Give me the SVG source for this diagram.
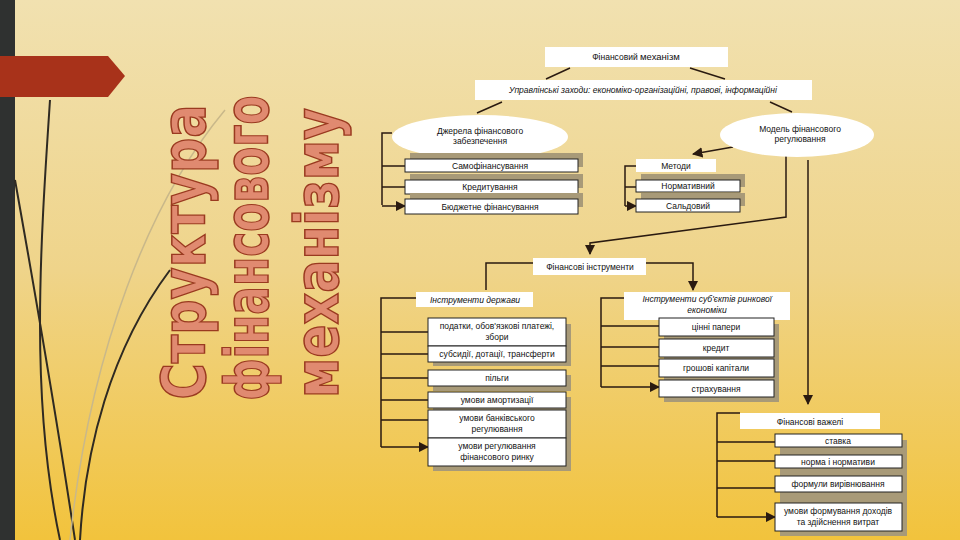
<svg xmlns="http://www.w3.org/2000/svg" width="960" height="540" viewBox="0 0 960 540">
<defs>
<linearGradient id="bg" x1="0" y1="0" x2="0" y2="1"><stop offset="0" stop-color="#f1e1b0"/><stop offset="0.5" stop-color="#efd48a"/><stop offset="1" stop-color="#f2c33c"/></linearGradient>
<marker id="ar" viewBox="0 0 10 10" refX="9" refY="5" markerWidth="7" markerHeight="7" orient="auto-start-reverse"><path d="M0,0L10,5L0,10z" fill="#2a1a10"/></marker>
<style>
.c{fill:none;stroke:#2a1a10;stroke-width:1.5}
.b{fill:#fff;stroke:#222;stroke-width:1}
.w{fill:#fff}
.s{fill:#a89a78}
.t{font-family:"Liberation Sans",Arial,sans-serif;font-size:8.5px;fill:#111;text-anchor:middle}
.i{font-style:italic}
.h{font-family:"DejaVu Sans",sans-serif;font-weight:bold;font-size:60px;fill:#e08a70;stroke:#9a3a20;stroke-width:1.5;text-anchor:middle}
</style>
</defs>
<rect width="960" height="540" fill="url(#bg)"/>
<rect x="0" y="0" width="15" height="540" fill="#2f3130"/>
<path d="M0,56H108L125,76L108,97H0z" fill="#a8321a"/>
<g fill="none" stroke="#2f2a22" stroke-width="2">
<path d="M50,100C40,250 30,400 60,540"/>
<path d="M15,180C40,320 60,440 75,540"/>
<path d="M170,270C110,350 85,450 80,540"/>
</g>
<path d="M225,110C150,200 90,350 70,540" fill="none" stroke="#c9b88a" stroke-width="1.5"/>
<g id="title">
<text class="h" transform="translate(205,252) rotate(-90)" textLength="295" lengthAdjust="spacingAndGlyphs">Структура</text>
<text class="h" transform="translate(268,248) rotate(-90)" textLength="305" lengthAdjust="spacingAndGlyphs">фінансового</text>
<text class="h" transform="translate(338,253) rotate(-90)" textLength="290" lengthAdjust="spacingAndGlyphs">механізму</text>
</g>
<g id="connectors">
<path class="c" d="M546,79L570,68M690,68L725,79M477,113L502,102M770,102L792,112"/>
<path class="c" d="M392,133H382V205"/>
<path class="c" marker-end="url(#ar)" d="M382,166H405M382,187H405M382,206H405"/>
<path class="c" marker-end="url(#ar)" d="M733,147L693,154"/>
<path class="c" d="M636,166H625V206"/>
<path class="c" marker-end="url(#ar)" d="M625,187H636M625,206H636"/>
<path class="c" marker-end="url(#ar)" d="M786,155V217L590,243V254"/>
<path class="c" marker-end="url(#ar)" d="M808,160V404"/>
<path class="c" marker-end="url(#ar)" d="M533,263H486V290M646,263H693V290"/>
<path class="c" d="M416,298H381V447"/>
<path class="c" marker-end="url(#ar)" d="M381,332H428M381,354H428M381,378H428M381,400H428M381,420H428M381,447H428"/>
<path class="c" d="M624,298H601V387"/>
<path class="c" marker-end="url(#ar)" d="M601,326H659M601,347H659M601,366H659M601,387H659"/>
<path class="c" d="M740,413H717V517"/>
<path class="c" marker-end="url(#ar)" d="M717,442H775M717,461H775M717,488H775M717,517H775"/>
</g>
<g id="n1"><rect class="w" x="545" y="47" width="183" height="20"/><text class="t" x="636" y="60">Фінансовий <tspan font-size="9.5">механізм</tspan></text></g>
<g id="n2"><rect class="w" x="475" y="80" width="337" height="20"/><text class="t i" x="643" y="93">Управлінські заходи: економіко-організаційні, правові, інформаційні</text></g>
<g id="n3"><ellipse class="w" cx="480" cy="137" rx="88" ry="22"/><text class="t" x="480" y="134">Джерела фінансового</text><text class="t" x="480" y="144">забезпечення</text></g>
<g id="n4"><ellipse class="w" cx="797" cy="135" rx="77" ry="22"/><text class="t" x="800" y="132">Модель фінансового</text><text class="t" x="800" y="142">регулювання</text></g>
<g id="n5"><rect class="s" x="410" y="153" width="173" height="14"/><rect class="b" x="405" y="159" width="173" height="13"/><text class="t" x="490" y="169">Самофінансування</text></g>
<g id="n6"><rect class="s" x="410" y="174" width="173" height="14"/><rect class="b" x="405" y="180" width="173" height="14"/><text class="t" x="490" y="190">Кредитування</text></g>
<g id="n7"><rect class="s" x="410" y="193" width="173" height="14"/><rect class="b" x="405" y="199" width="173" height="15"/><text class="t" x="490" y="210">Бюджетне фінансування</text></g>
<g id="n8"><rect class="w" x="636" y="159" width="80" height="13"/><text class="t" x="676" y="169">Методи</text></g>
<g id="n9"><rect class="s" x="641" y="174" width="104" height="13"/><rect class="b" x="636" y="180" width="104" height="12"/><text class="t" x="688" y="189">Нормативний</text></g>
<g id="n10"><rect class="s" x="641" y="193" width="104" height="13"/><rect class="b" x="636" y="199" width="104" height="13"/><text class="t" x="688" y="209">Сальдовий</text></g>
<g id="n11"><rect class="w" x="533" y="258" width="113" height="17"/><text class="t" x="590" y="270">Фінансові інструменти</text></g>
<g id="n12"><rect class="w" x="416" y="292" width="117" height="15"/><text class="t i" x="475" y="303">Інструменти держави</text></g>
<g id="n13"><rect class="s" x="433" y="324" width="138" height="42"/><rect class="b" x="428" y="318" width="138" height="28"/><text class="t" x="497" y="329">податки, обов'язкові платежі,</text><text class="t" x="497" y="340">збори</text></g>
<g id="n14"><rect class="b" x="428" y="346" width="138" height="16"/><text class="t" x="497" y="357">субсидії, дотації, трансферти</text></g>
<g id="n15"><rect class="s" x="433" y="375" width="138" height="16"/><rect class="b" x="428" y="370" width="138" height="16"/><text class="t" x="497" y="381">пільги</text></g>
<g id="n16"><rect class="s" x="433" y="397" width="138" height="74"/><rect class="b" x="428" y="392" width="138" height="16"/><text class="t" x="497" y="403">умови амортизації</text></g>
<g id="n17"><rect class="b" x="428" y="410" width="138" height="28"/><text class="t" x="497" y="421">умови банківського</text><text class="t" x="497" y="432">регулювання</text></g>
<g id="n18"><rect class="b" x="428" y="438" width="138" height="28"/><text class="t" x="497" y="449">умови регулювання</text><text class="t" x="497" y="460">фінансового ринку</text></g>
<g id="n19"><rect class="w" x="624" y="292" width="166" height="28"/><text class="t i" x="707" y="302">Інструменти суб'єктів ринкової</text><text class="t i" x="707" y="313">економіки</text></g>
<g id="n20"><rect class="s" x="664" y="324" width="115" height="78"/><rect class="b" x="659" y="318" width="115" height="18"/><text class="t" x="716" y="330">цінні папери</text></g>
<g id="n21"><rect class="b" x="659" y="339" width="115" height="18"/><text class="t" x="716" y="351">кредит</text></g>
<g id="n22"><rect class="b" x="659" y="359" width="115" height="18"/><text class="t" x="716" y="371">грошові капітали</text></g>
<g id="n23"><rect class="b" x="659" y="380" width="115" height="17"/><text class="t" x="716" y="392">страхування</text></g>
<g id="n24"><rect class="w" x="740" y="413" width="140" height="16"/><text class="t" x="810" y="425">Фінансові важелі</text></g>
<g id="n25"><rect class="s" x="780" y="440" width="127" height="96"/><rect class="b" x="775" y="434" width="127" height="13"/><text class="t" x="838" y="444">ставка</text></g>
<g id="n26"><rect class="b" x="775" y="455" width="127" height="13"/><text class="t" x="838" y="465">норма і нормативи</text></g>
<g id="n27"><rect class="b" x="775" y="476" width="127" height="16"/><text class="t" x="838" y="487">формули вирівнювання</text></g>
<g id="n28"><rect class="b" x="775" y="503" width="127" height="28"/><text class="t" x="838" y="514">умови формування доходів</text><text class="t" x="838" y="525">та здійснення витрат</text></g>
</svg>
